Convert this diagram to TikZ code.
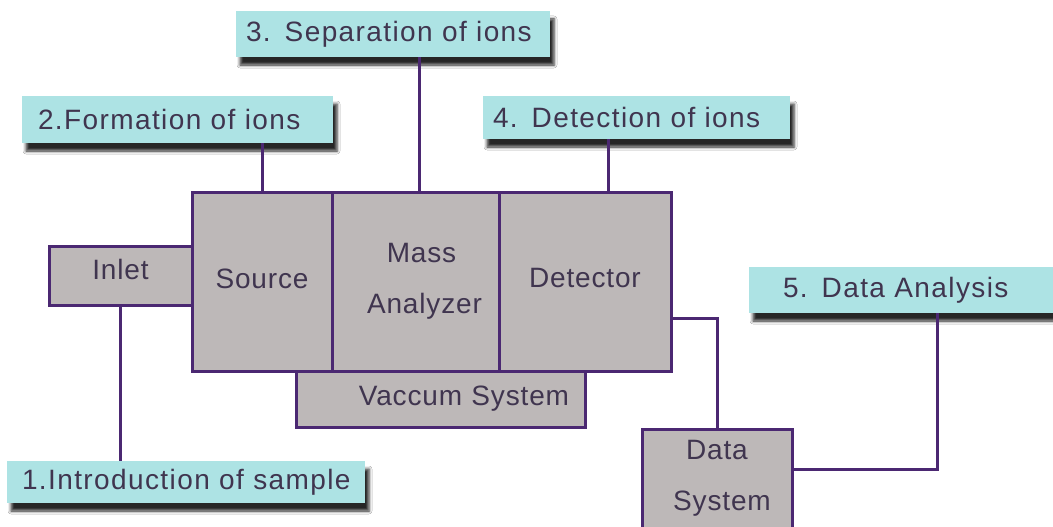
\documentclass[tikz,border=0pt]{standalone}
\usepackage{fontspec}
\newfontfamily\labfont[LetterSpace=5]{Liberation Sans}
\newfontfamily\blkfont[LetterSpace=3]{Liberation Sans}
\usetikzlibrary{shadows.blur,calc}
\definecolor{tealbox}{HTML}{ADE3E4}
\definecolor{blkfill}{HTML}{BDB8B8}
\definecolor{edgecol}{HTML}{4B2872}
\definecolor{txtcol}{HTML}{40354F}
\begin{document}
\begin{tikzpicture}[x=1pt,y=-1pt,
  tag/.style={fill=tealbox, anchor=north west, inner ysep=0pt, outer sep=0pt,
    align=left, text=txtcol, font=\labfont\fontsize{28}{32}\selectfont,
    blur shadow={shadow xshift=4pt, shadow yshift=-8pt, shadow blur radius=3pt, shadow opacity=85}},
  block/.style={draw=edgecol, line width=3pt, fill=blkfill, anchor=north west,
    inner sep=0pt, outer sep=0pt, text=txtcol, align=center,
    font=\blkfont\fontsize{28}{51}\selectfont},
  conn/.style={draw=edgecol, line width=3pt}]
\fill[white] (0,0) rectangle (1053,527);
\useasboundingbox (0,0) rectangle (1053,527);
\clip (0,0) rectangle (1053,527);
% tags
\node[tag, minimum height=46pt, inner xsep=10pt, text width=294pt] (b3) at (236,11) {3. Separation of ions};
\node[tag, minimum height=47pt, inner xsep=16pt, text width=279pt] (b2) at (22,96) {2.Formation of ions};
\node[tag, minimum height=43pt, inner xsep=10pt, text width=287pt] (b4) at (483,96) {4. Detection of ions};
\node[tag, minimum height=46pt, inner xsep=34pt, text width=252pt] (b5) at (749,267) {5. Data Analysis};
\node[tag, minimum height=42pt, inner xsep=15pt, text width=328pt] (b1) at (7,461) {1.Introduction of sample};
% blocks
\node[block, minimum width=143pt, minimum height=59pt, text depth=12pt] (inlet) at (49,246) {Inlet};
\node[block, minimum width=140pt, minimum height=179pt, text depth=6pt] (src) at (192,192) {Source};
\node[block, minimum width=167pt, minimum height=179pt] (mass) at (332,192) {\hspace*{12pt}Mass\\\hspace*{18pt}Analyzer};
\node[block, minimum width=172pt, minimum height=179pt, text depth=8pt] (det) at (499,192) {Detector};
\node[block, minimum height=56pt, inner xsep=16pt, text width=257pt, align=right] (vac) at (296,371) {Vaccum System};
\node[block, minimum width=150pt, minimum height=120pt, text depth=28pt] (ds) at (642,429) {Data\\\hspace*{10pt}System};
% connectors
\draw[conn] (src.north) -- (src.north |- b2.south);
\draw[conn] ([xshift=4pt]mass.north) -- ([xshift=4pt]mass.north |- b3.south);
\draw[conn] ([xshift=23pt]det.north) -- ([xshift=23pt]det.north |- b4.south);
\draw[conn] (inlet.south) -- (inlet.south |- b1.north);
\draw[conn] ($(det.north east)+(0,126)$) -| (ds.north);
\draw[conn] ($(ds.north east)+(0,40)$) -| ($(b5.south west)+(188,0)$);
\end{tikzpicture}
\end{document}
